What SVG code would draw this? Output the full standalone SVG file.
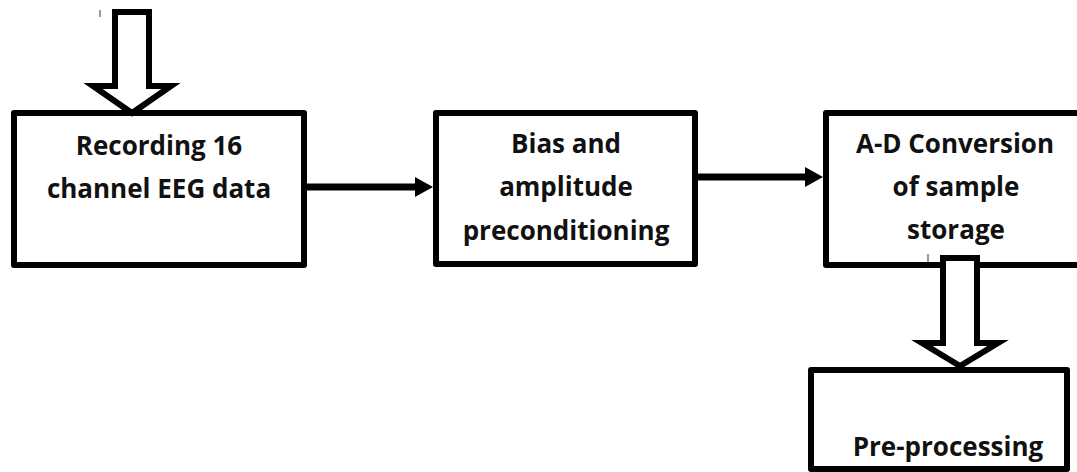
<svg xmlns="http://www.w3.org/2000/svg" width="1077" height="472" viewBox="0 0 1077 472">
<style>
  .box { fill: #ffffff; stroke: #000000; stroke-width: 6; stroke-linejoin: round; }
  .hollow { fill: #ffffff; stroke: #000000; stroke-width: 6; stroke-linejoin: miter; }
  .line { stroke: #000000; stroke-width: 7; fill: none; }
  .head { fill: #000000; stroke: none; }
  .tick { stroke: #555555; stroke-width: 1.2; }
  text { font-family: "Open Sans", "Noto Sans", "DejaVu Sans", sans-serif; font-weight: bold; font-size: 26px; fill: #111111; text-anchor: middle; }
</style>
<rect width="1077" height="472" fill="#ffffff"/>
<g id="node-recording">
  <rect class="box" x="14" y="113" width="290" height="152"/>
  <text x="159" y="155">Recording 16</text>
  <text x="159" y="198">channel EEG data</text>
</g>
<g id="node-bias">
  <rect class="box" x="436" y="113" width="259" height="151"/>
  <text x="566" y="153">Bias and</text>
  <text x="566" y="196">amplitude</text>
  <text x="566" y="240">preconditioning</text>
</g>
<g id="node-adc">
  <rect class="box" x="826" y="113" width="300" height="152"/>
  <text x="955" y="153">A-D Conversion</text>
  <text x="956" y="196">of sample</text>
  <text x="956" y="239">storage</text>
</g>
<g id="node-preprocessing">
  <rect class="box" x="811" y="370" width="256" height="99"/>
  <text x="948" y="456">Pre-processing</text>
</g>
<g id="connectors">
  <polygon class="hollow" points="115,12 149,12 149,86 171,86 132,113 93,86 115,86"/>
  <line class="tick" x1="100" y1="10" x2="100" y2="17"/>
  <line class="line" x1="307" y1="187" x2="417" y2="187"/>
  <polygon class="head" points="415,177 433,187 415,197"/>
  <line class="line" x1="698" y1="177" x2="807" y2="177"/>
  <polygon class="head" points="805,167 823,177 805,187"/>
  <polygon class="hollow" points="943,258 977,258 977,343 998,343 960,366 922,343 943,343"/>
  <line class="tick" x1="928" y1="254" x2="928" y2="262"/>
</g>
</svg>
